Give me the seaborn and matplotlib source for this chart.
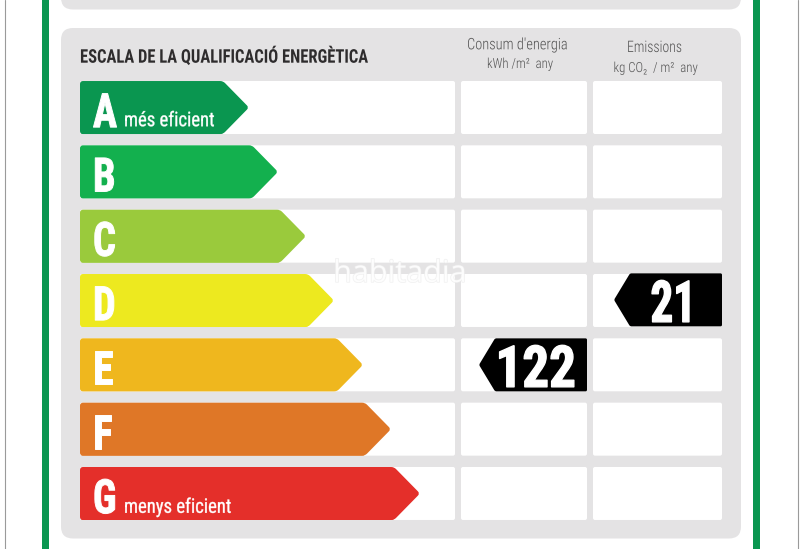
import math
import matplotlib
matplotlib.use("Agg")
import matplotlib.pyplot as plt
import matplotlib.patheffects as pe
import seaborn as sns
import pandas as pd
from matplotlib.patches import FancyBboxPatch, PathPatch, Rectangle
from matplotlib.path import Path
from matplotlib.transforms import Affine2D

grades = ["A", "B", "C", "D", "E", "F", "G"]
arrow_lengths = [169, 198, 226, 254, 283, 311, 340]
grade_colors = ["#0A9650", "#13B04E", "#9ACA3C", "#EDE91F", "#EFB71E", "#DF7727", "#E42F2A"]
energy_values = {"E": 122}
emission_values = {"D": 21}
title = "ESCALA DE LA QUALIFICACIÓ ENERGÈTICA"
best_label = "més eficient"
worst_label = "menys eficient"

W, H = 800, 549
COND = ["Roboto Condensed", "DejaVu Sans"]
TIP = 26
ROW_H = 53
PITCH = 64.33


class Squeeze(pe.AbstractPathEffect):
    """Narrow a real text horizontally around a pixel column, optionally fattening it."""
    def __init__(self, factor, anchor, fatten=0.0):
        super().__init__()
        self.factor, self.anchor, self.fatten = factor, anchor, fatten

    def draw_path(self, renderer, gc, tpath, affine, rgbFace=None):
        squeeze = Affine2D().translate(-self.anchor, 0).scale(self.factor, 1).translate(self.anchor, 0)
        gc0 = renderer.new_gc()
        gc0.copy_properties(gc)
        gc0.set_linewidth(self.fatten)
        if self.fatten:
            gc0.set_foreground(rgbFace)
            gc0.set_joinstyle("round")
        renderer.draw_path(gc0, tpath, affine + squeeze, rgbFace)
        gc0.restore()


sns.set_theme(style="white")
fig = plt.figure(figsize=(W / 100, H / 100), dpi=100, facecolor="white")

# page furniture in pixel coordinates
bg = fig.add_axes([0, 0, 1, 1])
bg.set_xlim(0, W)
bg.set_ylim(H, 0)
bg.axis("off")


def rbox(ax, x0, y0, x1, y1, r, color, z=1):
    ax.add_patch(FancyBboxPatch((x0 + r, y0 + r), x1 - x0 - 2 * r, y1 - y0 - 2 * r,
                                boxstyle=f"round,pad={r},rounding_size={r}",
                                fc=color, ec="none", zorder=z))


for x0, x1 in [(42, 49), (753, 760)]:
    bg.add_patch(Rectangle((x0, 0), x1 - x0, H, fc="#0A9650", ec="none"))
for x in (4.5, 797.5):
    bg.plot([x, x], [0, H], color="#9a9a9a", lw=0.8)

PANEL = "#E4E3E4"
rbox(bg, 61, -30, 741, 9.5, 12, PANEL)
rbox(bg, 61, 28, 741, 538.5, 12, PANEL)
for i in range(len(grades)):
    top = 107.5 + i * PITCH - ROW_H / 2
    rbox(bg, 80, top, 455, top + ROW_H, 2, "white", 2)
    rbox(bg, 461, top, 587, top + ROW_H, 2, "white", 2)
    rbox(bg, 593, top, 722, top + ROW_H, 2, "white", 2)


def label(x, y, s, size, ha="left", weight=300, color="#555555", sq=1.0):
    bg.text(x, y, s, family=COND, weight=weight, fontsize=size, color=color, ha=ha, va="baseline",
            zorder=3, path_effects=[Squeeze(sq, x)])


label(80, 62.7, title, 13.6, weight=700, color="#2e2c2d", sq=0.876)
label(517.5, 49.3, "Consum d'energia", 11.4, ha="center", sq=0.91)
label(487, 68, "kWh /m²  any", 10, sq=0.92)
label(654.5, 52, "Emissions", 11.4, ha="center", sq=0.87)
label(613.5, 72, "kg CO₂  / m²  any", 10, sq=0.925)

bg.text(400, 282, "habitadia", family="Open Sans", fontsize=22, color="white", alpha=0.75,
        ha="center", va="baseline", zorder=6,
        path_effects=[pe.withStroke(linewidth=1.0, foreground="#ececec")])

# bar axes: one x unit is one pixel, bars start at the x=80 pixel column
ax = fig.add_axes([0, (H - (493.5 + PITCH / 2)) / H, 1, 7 * PITCH / H])
ax.patch.set_alpha(0)
df = pd.DataFrame({"grade": grades, "length": [v - TIP for v in arrow_lengths]})
sns.barplot(data=df, y="grade", x="length", hue="grade", palette=grade_colors, saturation=1,
            width=ROW_H / PITCH, dodge=False, legend=False, ax=ax, zorder=3)
ax.set_xlim(-80, W - 80)
ax.set_ylim(6.5, -0.5)
ax.axis("off")


def rounded_poly(pts, r):
    verts, codes = [], []
    n = len(pts)
    for i, p in enumerate(pts):
        a, b = pts[i - 1], pts[(i + 1) % n]

        def toward(q):
            dx, dy = q[0] - p[0], (q[1] - p[1]) * PITCH
            d = math.hypot(dx, dy)
            return (p[0] + dx / d * r, p[1] + dy / d * r / PITCH)
        s, e = toward(a), toward(b)
        verts += [s, p, e]
        codes += [Path.MOVETO if i == 0 else Path.LINETO, Path.CURVE3, Path.CURVE3]
    verts.append(verts[0])
    codes.append(Path.CLOSEPOLY)
    return Path(verts, codes)


for bar, length, col in zip(ax.patches, arrow_lengths, grade_colors):
    y0, h = bar.get_y(), bar.get_height()
    y1, mid = y0 + h, y0 + h / 2
    shoulder = bar.get_width()
    path = rounded_poly([(0, y0), (shoulder, y0), (length, mid), (shoulder, y1), (0, y1)], 3)
    arrow = PathPatch(path, fc=col, ec="none", zorder=4)
    ax.add_patch(arrow)
    bar.set_clip_path(arrow)

for i, g in enumerate(grades):
    ax.text(13, i + 0.305, g, family=COND, weight=700, fontsize=34, color="white",
            ha="left", va="baseline", zorder=5, path_effects=[Squeeze(0.85, 93, 0.7)])
ax.text(44, 0 + 0.29, best_label, family=COND, weight=400, fontsize=14.5, color="white", va="baseline",
        zorder=5, path_effects=[Squeeze(0.925, 124, 0.25)])
ax.text(44, 6 + 0.30, worst_label, family=COND, weight=400, fontsize=14.5, color="white", va="baseline",
        zorder=5, path_effects=[Squeeze(0.925, 124, 0.25)])


def tag(value, row, left, right, text_right, sq, notch=16):
    y0, y1 = row - ROW_H / PITCH / 2, row + ROW_H / PITCH / 2
    p = rounded_poly([(left + notch, y0), (right, y0), (right, y1), (left + notch, y1), (left, row)], 1.5)
    ax.add_patch(PathPatch(p, fc="black", ec="none", zorder=4))
    ax.text(text_right, row + 22 / PITCH, str(value), family=COND, weight=700, fontsize=41.5, color="white",
            ha="right", va="baseline", zorder=5, path_effects=[Squeeze(sq, text_right + 80, 1.0)])


for g, v in energy_values.items():
    tag(v, grades.index(g), 479 - 80, 587 - 80, 576 - 80, 0.92)
for g, v in emission_values.items():
    tag(v, grades.index(g) - 0.01, 614 - 80, 722 - 80, 696 - 80, 0.78)

fig.savefig("out.png", dpi=100, facecolor="white")
